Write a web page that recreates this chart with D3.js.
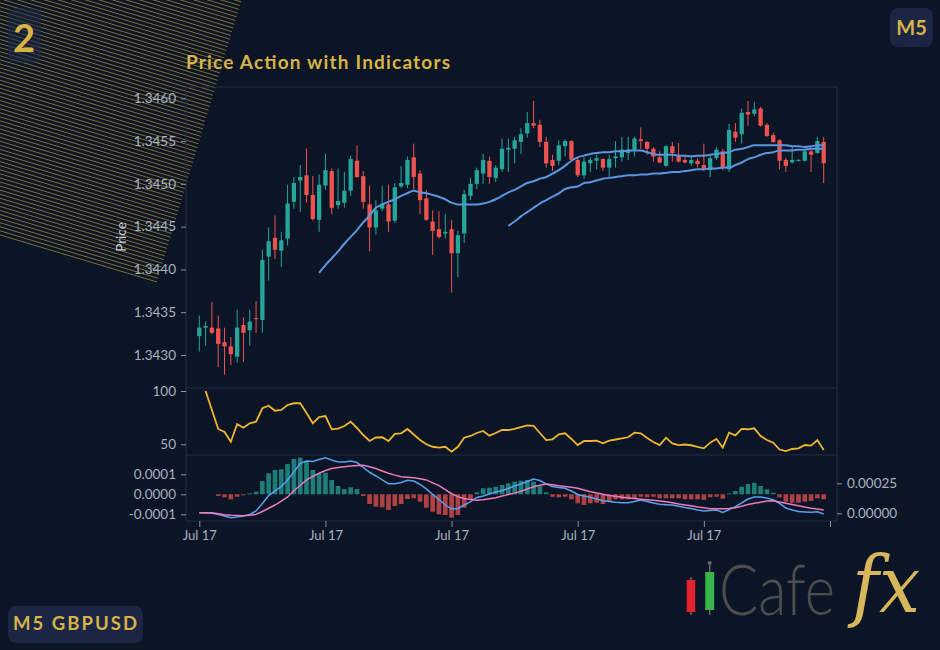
<!DOCTYPE html>
<html>
<head>
<meta charset="utf-8">
<script src="https://cdn.jsdelivr.net/npm/d3@7"></script>
<style>
  body { margin: 0; background: #0b1526; }
  svg { display: block; font-family: Lato, "Open Sans", sans-serif; }
</style>
</head>
<body>
<div id="chart"></div>
<script>
// ---- data (M5 GBPUSD, 100 bars) ----
const open = [1.34322,1.34332,1.34332,1.34331,1.34315,1.34310,1.34298,1.34335,1.34329,1.34343,
  1.34341,1.34415,1.34437,1.34422,1.34436,1.34479,1.34504,1.34510,1.34487,1.34458,
  1.34498,1.34515,1.34475,1.34478,1.34492,1.34527,1.34509,1.34476,1.34449,1.34471,
  1.34476,1.34457,1.34497,1.34499,1.34531,1.34512,1.34483,1.34456,1.34447,1.34442,
  1.34447,1.34419,1.34442,1.34486,1.34500,1.34512,1.34527,1.34507,1.34517,1.34540,
  1.34541,1.34549,1.34559,1.34571,1.34569,1.34549,1.34528,1.34527,1.34544,1.34550,
  1.34528,1.34510,1.34524,1.34527,1.34529,1.34519,1.34530,1.34531,1.34536,1.34540,
  1.34552,1.34549,1.34541,1.34531,1.34521,1.34544,1.34532,1.34528,1.34524,1.34527,
  1.34522,1.34516,1.34530,1.34538,1.34517,1.34561,1.34558,1.34584,1.34582,1.34588,
  1.34569,1.34557,1.34551,1.34528,1.34525,1.34527,1.34527,1.34538,1.34536,1.34549];
const high = [1.34346,1.34339,1.34362,1.34346,1.34332,1.34321,1.34353,1.34344,1.34353,1.34363,
  1.34423,1.34449,1.34463,1.34444,1.34499,1.34508,1.34522,1.34541,1.34509,1.34511,
  1.34535,1.34518,1.34518,1.34514,1.34533,1.34545,1.34515,1.34498,1.34481,1.34498,
  1.34499,1.34501,1.34521,1.34532,1.34547,1.34516,1.34493,1.34469,1.34468,1.34465,
  1.34458,1.34445,1.34493,1.34507,1.34519,1.34535,1.34532,1.34522,1.34553,1.34553,
  1.34555,1.34565,1.34584,1.34597,1.34575,1.34555,1.34534,1.34551,1.34552,1.34551,
  1.34531,1.34531,1.34531,1.34534,1.34530,1.34534,1.34550,1.34555,1.34555,1.34555,
  1.34566,1.34550,1.34543,1.34538,1.34545,1.34549,1.34548,1.34534,1.34532,1.34530,
  1.34547,1.34534,1.34543,1.34541,1.34570,1.34571,1.34588,1.34597,1.34596,1.34590,
  1.34571,1.34560,1.34552,1.34530,1.34544,1.34529,1.34540,1.34540,1.34555,1.34555];
const low = [1.34304,1.34311,1.34324,1.34286,1.34277,1.34288,1.34291,1.34292,1.34311,1.34326,
  1.34326,1.34387,1.34412,1.34403,1.34428,1.34471,1.34467,1.34478,1.34457,1.34444,
  1.34493,1.34465,1.34471,1.34472,1.34486,1.34507,1.34471,1.34421,1.34441,1.34468,
  1.34444,1.34454,1.34495,1.34495,1.34493,1.34465,1.34457,1.34417,1.34436,1.34436,
  1.34373,1.34391,1.34431,1.34481,1.34494,1.34500,1.34500,1.34502,1.34514,1.34514,
  1.34524,1.34535,1.34554,1.34565,1.34543,1.34519,1.34515,1.34522,1.34532,1.34527,
  1.34508,1.34506,1.34514,1.34517,1.34515,1.34508,1.34519,1.34526,1.34528,1.34532,
  1.34541,1.34534,1.34526,1.34524,1.34520,1.34526,1.34525,1.34524,1.34521,1.34519,
  1.34515,1.34508,1.34528,1.34516,1.34514,1.34549,1.34547,1.34568,1.34579,1.34567,
  1.34555,1.34548,1.34517,1.34514,1.34524,1.34526,1.34526,1.34514,1.34535,1.34501];
const close = [1.34332,1.34334,1.34326,1.34313,1.34310,1.34301,1.34332,1.34326,1.34339,1.34342,
  1.34411,1.34433,1.34423,1.34434,1.34477,1.34501,1.34508,1.34487,1.34459,1.34499,
  1.34516,1.34472,1.34480,1.34492,1.34529,1.34508,1.34479,1.34449,1.34469,1.34477,
  1.34456,1.34496,1.34501,1.34528,1.34508,1.34481,1.34458,1.34445,1.34438,1.34444,
  1.34419,1.34440,1.34488,1.34500,1.34516,1.34528,1.34508,1.34519,1.34541,1.34542,
  1.34551,1.34558,1.34571,1.34568,1.34549,1.34524,1.34521,1.34545,1.34550,1.34528,
  1.34510,1.34526,1.34528,1.34530,1.34519,1.34529,1.34532,1.34540,1.34540,1.34553,
  1.34550,1.34541,1.34532,1.34525,1.34544,1.34536,1.34526,1.34525,1.34528,1.34523,
  1.34518,1.34530,1.34540,1.34518,1.34563,1.34554,1.34583,1.34581,1.34587,1.34568,
  1.34556,1.34549,1.34527,1.34521,1.34528,1.34528,1.34538,1.34534,1.34550,1.34524];

// moving averages, first value sits on bar sma20Start / sma50Start
const sma20Start = 19;
const sma20 = [1.34396,1.34405,1.34413,1.34421,1.34430,1.34438,1.34446,1.34455,1.34463,1.34472,
  1.34476,1.34479,1.34482,1.34486,1.34489,1.34492,1.34490,1.34489,1.34487,1.34485,
  1.34482,1.34478,1.34476,1.34476,1.34476,1.34476,1.34477,1.34479,1.34482,1.34486,
  1.34490,1.34493,1.34497,1.34501,1.34503,1.34506,1.34508,1.34512,1.34516,1.34521,
  1.34527,1.34531,1.34533,1.34535,1.34536,1.34537,1.34537,1.34538,1.34538,1.34539,
  1.34539,1.34539,1.34537,1.34535,1.34534,1.34534,1.34534,1.34533,1.34533,1.34532,
  1.34533,1.34533,1.34534,1.34535,1.34536,1.34537,1.34540,1.34541,1.34543,1.34545,
  1.34545,1.34545,1.34545,1.34545,1.34545,1.34544,1.34544,1.34543,1.34544,1.34545,1.34545];
const sma50Start = 49;
const sma50 = [1.34451,1.34456,1.34462,1.34467,1.34472,1.34477,1.34481,1.34485,1.34489,1.34494,
  1.34496,1.34497,1.34501,1.34502,1.34504,1.34506,1.34507,1.34508,1.34509,1.34510,
  1.34510,1.34511,1.34511,1.34512,1.34512,1.34513,1.34514,1.34514,1.34515,1.34516,
  1.34517,1.34517,1.34518,1.34518,1.34519,1.34519,1.34522,1.34525,1.34529,1.34531,
  1.34534,1.34536,1.34537,1.34539,1.34539,1.34539,1.34540,1.34540,1.34541,1.34541,1.34541];

// RSI starts on bar 1
const rsiStart = 1;
const rsi = [100,82.2,64.4,61.5,52.4,69.0,65.6,69.7,71.2,83.8,
  86.2,81.5,82.2,86.9,88.5,88.5,79.4,69.7,75.6,76.5,
  64.1,64.8,67.2,71.2,65.3,58.7,53.1,56.4,56.6,53.1,
  59.7,60.3,64.4,59.2,54.0,50.0,47.7,46.8,47.7,43.1,
  47.7,56.2,57.8,60.6,62.5,58.1,60.6,63.4,63.4,64.4,
  66.2,67.8,67.4,60.6,54.0,54.7,59.4,60.3,55.0,49.3,
  53.1,53.1,53.4,50.9,53.4,54.5,55.6,56.6,60.9,60.3,
  55.9,52.2,49.3,56.2,50.9,49.3,49.8,49.1,47.5,46.2,
  51.5,55.0,46.8,60.9,58.4,64.4,64.1,65.0,57.8,54.0,
  51.5,45.1,43.7,45.6,46.2,49.3,48.7,54.0,44.7];

const macd = [0.000005,0.000003,0,-0.00001,-0.000023,-0.000037,-0.000031,-0.000023,-0.00001,0.000019,
  0.000082,0.000148,0.000186,0.000223,0.000278,0.000344,0.000417,0.000436,0.000432,0.000448,
  0.000463,0.000444,0.000428,0.000428,0.000436,0.000423,0.000382,0.000342,0.000311,0.000278,
  0.000247,0.000247,0.000257,0.000275,0.000269,0.00024,0.000203,0.000157,0.000115,0.000069,
  0.000036,0.00004,0.000069,0.000098,0.000132,0.000144,0.000161,0.000178,0.00019,0.000207,
  0.000228,0.000244,0.000265,0.000286,0.000273,0.000244,0.000223,0.000215,0.000208,0.000186,
  0.000157,0.000144,0.000133,0.000119,0.000105,0.000098,0.000092,0.000088,0.000088,0.000098,
  0.000111,0.000098,0.000086,0.000075,0.000072,0.000069,0.000058,0.000048,0.00004,0.000028,
  0.000019,0.000023,0.000028,0.000008,0.000032,0.000055,0.000086,0.000119,0.000136,0.000136,
  0.000128,0.000113,0.000082,0.000044,0.000028,0.000015,0.000011,0.000008,0.000013,-0.000006];
const signal = [0.000005,0.000005,0.000005,-0.000004,-0.000012,-0.000016,-0.000018,-0.00002,-0.000016,-0.000009,
  0.000015,0.000042,0.000069,0.000101,0.000136,0.000188,0.000234,0.000278,0.000307,0.000334,
  0.000357,0.000373,0.000381,0.000388,0.000394,0.000398,0.0004,0.000388,0.000373,0.000353,
  0.000334,0.000318,0.000304,0.0003,0.000296,0.000288,0.000278,0.000254,0.000231,0.000198,
  0.000163,0.000139,0.000123,0.000114,0.000109,0.000113,0.000121,0.00013,0.000144,0.000157,
  0.000168,0.000183,0.000203,0.000222,0.000233,0.000244,0.000238,0.000229,0.000224,0.000218,
  0.000208,0.000194,0.00018,0.000169,0.000158,0.000149,0.000142,0.000134,0.000128,0.000123,
  0.000118,0.000113,0.000108,0.000103,0.000096,0.000088,0.000078,0.00007,0.000063,0.000053,
  0.000046,0.000038,0.000037,0.000038,0.00004,0.000046,0.000058,0.000073,0.000083,0.000093,
  0.000102,0.000105,0.000095,0.000084,0.000074,0.000063,0.000052,0.000043,0.000036,0.000028];
const hist = [0,0,0,-0.0000085,-0.000015,-0.000025,-0.000012,-0.000005,0.000005,0.000013,
  0.0000665,0.000105,0.0001215,0.000125,0.0001515,0.0001765,0.000183,0.000163,0.0001215,0.000105,
  0.000108,0.0000715,0.0000415,0.0000265,0.000035,0.0000265,-0.0000085,-0.0000485,-0.000062,-0.000065,
  -0.0000785,-0.0000585,-0.0000485,-0.0000235,-0.00002,-0.000037,-0.000067,-0.000087,-0.0001,-0.0001035,
  -0.000117,-0.0001035,-0.000067,-0.000025,0.00001,0.00003,0.000033,0.000038,0.0000465,0.000055,
  0.000063,0.000068,0.0000715,0.000063,0.00004,0.00001,-0.000012,-0.000015,-0.000012,-0.000025,
  -0.000045,-0.0000535,-0.000045,-0.000042,-0.0000485,-0.000037,-0.000025,-0.000025,-0.000025,-0.00002,
  -0.000012,-0.000015,-0.000012,-0.00002,-0.00002,-0.00002,-0.00002,-0.000025,-0.000025,-0.000025,
  -0.000028,-0.000015,-0.000012,-0.000022,0.000005,0.0000165,0.000038,0.0000515,0.000058,0.0000415,
  0.000025,0.000008,-0.000015,-0.000037,-0.000042,-0.000042,-0.000037,-0.000033,-0.00002,-0.000025];

const xTicks = [0, 20, 40, 60, 80, 100];
const xTickLabels = ["Jul 17", "Jul 17", "Jul 17", "Jul 17", "Jul 17", ""];
const priceTicks = [1.3430, 1.3435, 1.3440, 1.3445, 1.3450, 1.3455, 1.3460];
const rsiTicks = [50, 100];
const histTicks = [-0.0001, 0, 0.0001];
const macdTicks = [0, 0.00025];

// ---- layout ----
const width = 940, height = 650;
const plotL = 186, plotR = 837, plotT = 87;
const priceBottom = 388, rsiBottom = 455, macdBottom = 521;
const gold = "#d8b345", up = "#26a69a", down = "#ef5350";
const axisText = "#a9b2c0", border = "#252f44";

const svg = d3.select("#chart").append("svg")
  .attr("width", width)
  .attr("height", height);

svg.append("rect").attr("width", width).attr("height", height).attr("fill", "#0b1526");

// diagonal gold hatching, top-left corner
const hatch = svg.append("g").attr("transform", "translate(157,282) rotate(16.7)");
hatch.selectAll("line").data(d3.range(0, 100)).join("line")
  .attr("x1", -700).attr("x2", 0)
  .attr("y1", k => -k * 3.9).attr("y2", k => -k * 3.9)
  .attr("stroke", "#c9a43c")
  .attr("stroke-width", 0.75)
  .attr("opacity", 0.75);

// scales
const x = d3.scaleLinear().domain([0, 100]).range([199.3, 830]);
const step = x(1) - x(0);
const yP = d3.scaleLinear().domain([1.3430, 1.3460]).range([355, 98.3]);
const yR = d3.scaleLinear().domain([50, 100]).range([444.3, 391]);
const yH = d3.scaleLinear().domain([-0.0001, 0.0001]).range([514.3, 474.3]);
const yM = d3.scaleLinear().domain([0, 0.00025]).range([513.3, 483.3]);

// clip paths for panels
const defs = svg.append("defs");
[["clipP", plotT, priceBottom], ["clipR", priceBottom, rsiBottom], ["clipM", rsiBottom, macdBottom]]
  .forEach(([id, y0, y1]) => {
    defs.append("clipPath").attr("id", id).append("rect")
      .attr("x", plotL).attr("y", y0).attr("width", plotR - plotL).attr("height", y1 - y0);
  });

// panel frames
const frame = svg.append("g").attr("stroke", border).attr("fill", "none");
frame.append("rect").attr("x", plotL).attr("y", plotT)
  .attr("width", plotR - plotL).attr("height", macdBottom - plotT);
[priceBottom, rsiBottom].forEach(yy => {
  frame.append("line").attr("x1", plotL).attr("x2", plotR).attr("y1", yy).attr("y2", yy);
});

// title
svg.append("text")
  .attr("x", plotL).attr("y", 69)
  .attr("fill", gold)
  .attr("font-size", 19)
  .attr("font-weight", 700)
  .attr("textLength", 264)
  .text("Price Action with Indicators");

// candles
const bars = d3.range(open.length).map(i => ({i, o: open[i], h: high[i], l: low[i], c: close[i]}));
const candles = svg.append("g").attr("clip-path", "url(#clipP)");
const bodyW = step * 0.68;
candles.selectAll("line").data(bars).join("line")
  .attr("x1", d => x(d.i)).attr("x2", d => x(d.i))
  .attr("y1", d => yP(d.h)).attr("y2", d => yP(d.l))
  .attr("stroke", d => d.c >= d.o ? up : down)
  .attr("stroke-width", 1);
candles.selectAll("rect").data(bars).join("rect")
  .attr("x", d => x(d.i) - bodyW / 2)
  .attr("width", bodyW)
  .attr("y", d => yP(Math.max(d.o, d.c)))
  .attr("height", d => Math.max(1, Math.abs(yP(d.o) - yP(d.c))))
  .attr("fill", d => d.c >= d.o ? up : down);

// moving averages
const maLine = d3.line().x(d => x(d[0])).y(d => yP(d[1])).curve(d3.curveMonotoneX);
[[sma20, sma20Start], [sma50, sma50Start]].forEach(([vals, start]) => {
  candles.append("path")
    .datum(vals.map((v, k) => [start + k, v]))
    .attr("d", maLine)
    .attr("fill", "none")
    .attr("stroke", "#5b97e0")
    .attr("stroke-width", 2);
});

// RSI
svg.append("g").attr("clip-path", "url(#clipR)").append("path")
  .datum(rsi.map((v, k) => [rsiStart + k, v]))
  .attr("d", d3.line().x(d => x(d[0])).y(d => yR(d[1])))
  .attr("fill", "none")
  .attr("stroke", "#f0b62f")
  .attr("stroke-width", 1.8);

// MACD histogram + lines
const macdG = svg.append("g").attr("clip-path", "url(#clipM)");
const histW = step * 0.74;
macdG.selectAll("rect").data(hist.map((v, i) => ({i, v}))).join("rect")
  .attr("x", d => x(d.i) - histW / 2)
  .attr("width", histW)
  .attr("y", d => yH(Math.max(0, d.v)))
  .attr("height", d => Math.abs(yH(d.v) - yH(0)))
  .attr("fill", d => d.v >= 0 ? up : down)
  .attr("opacity", 0.72);
const mLine = d3.line().x((d, i) => x(i)).y(d => yM(d));
macdG.append("path").datum(macd).attr("d", mLine)
  .attr("fill", "none").attr("stroke", "#5aa0ee").attr("stroke-width", 1.5);
macdG.append("path").datum(signal).attr("d", mLine)
  .attr("fill", "none").attr("stroke", "#ec7bbd").attr("stroke-width", 1.5);

// axes
function styleAxis(g, size) {
  g.select(".domain").remove();
  g.selectAll(".tick line").attr("stroke", "#8993a5");
  g.selectAll(".tick text").attr("fill", axisText).attr("font-size", size)
    .attr("font-family", "Lato, 'Open Sans', sans-serif");
}
svg.append("g").attr("transform", `translate(${plotL},0)`)
  .call(d3.axisLeft(yP).tickValues(priceTicks).tickFormat(d => d.toFixed(4)).tickSize(5).tickPadding(5))
  .call(g => styleAxis(g, 13.5));
svg.append("g").attr("transform", `translate(${plotL},0)`)
  .call(d3.axisLeft(yR).tickValues(rsiTicks).tickFormat(d3.format("d")).tickSize(5).tickPadding(5))
  .call(g => styleAxis(g, 13.5));
svg.append("g").attr("transform", `translate(${plotL},0)`)
  .call(d3.axisLeft(yH).tickValues(histTicks).tickFormat(d => d.toFixed(4)).tickSize(5).tickPadding(5))
  .call(g => styleAxis(g, 13.5));
svg.append("g").attr("transform", `translate(${plotR},0)`)
  .call(d3.axisRight(yM).tickValues(macdTicks).tickFormat(d => d.toFixed(5)).tickSize(5).tickPadding(5))
  .call(g => styleAxis(g, 13.5));
svg.append("g").attr("transform", `translate(0,${macdBottom})`)
  .call(d3.axisBottom(x).tickValues(xTicks).tickFormat((d, i) => xTickLabels[i]).tickSize(6).tickPadding(4))
  .call(g => styleAxis(g, 13));

svg.append("text")
  .attr("transform", "translate(126,237) rotate(-90)")
  .attr("text-anchor", "middle")
  .attr("fill", "#c9cfd9")
  .attr("font-size", 13.5)
  .text("Price");

// badges
svg.append("rect").attr("x", 8).attr("y", 8).attr("width", 33).attr("height", 55)
  .attr("rx", 6).attr("fill", "#1b2645").attr("opacity", 0.55);
svg.append("text").attr("x", 24).attr("y", 52).attr("text-anchor", "middle")
  .attr("fill", gold).attr("font-size", 38).attr("font-weight", 700).text("2");

svg.append("rect").attr("x", 890).attr("y", 8).attr("width", 43).attr("height", 39)
  .attr("rx", 8).attr("fill", "#1b2645");
svg.append("text").attr("x", 911.5).attr("y", 34.5).attr("text-anchor", "middle")
  .attr("fill", gold).attr("font-size", 20).attr("font-weight", 700).text("M5");

svg.append("rect").attr("x", 8).attr("y", 606).attr("width", 135).attr("height", 37)
  .attr("rx", 8).attr("fill", "#1b2645");
svg.append("text").attr("x", 13).attr("y", 630)
  .attr("fill", gold).attr("font-size", 18.5).attr("font-weight", 700)
  .attr("textLength", 124).text("M5 GBPUSD");

// CafeFX logo
const logo = svg.append("g");
logo.append("line").attr("x1", 691).attr("x2", 691).attr("y1", 577).attr("y2", 615)
  .attr("stroke", "#666").attr("stroke-width", 1.5);
logo.append("rect").attr("x", 686.7).attr("y", 580).attr("width", 8.5).attr("height", 32)
  .attr("fill", "#e3222b");
logo.append("line").attr("x1", 709.7).attr("x2", 709.7).attr("y1", 563).attr("y2", 615)
  .attr("stroke", "#666").attr("stroke-width", 1.5);
logo.append("circle").attr("cx", 709.7).attr("cy", 563).attr("r", 2).attr("fill", "#666");
logo.append("rect").attr("x", 705.2).attr("y", 572).attr("width", 9).attr("height", 38)
  .attr("fill", "#39b54a");
logo.append("text").attr("x", 719).attr("y", 615)
  .attr("fill", "#4d4d4d").attr("font-size", 70).attr("font-weight", 300)
  .attr("textLength", 116).attr("lengthAdjust", "spacingAndGlyphs")
  .text("Cafe");
logo.append("text").attr("x", 852).attr("y", 612)
  .attr("fill", "#d7b65c").attr("font-size", 78).attr("font-style", "italic")
  .attr("font-family", "'DejaVu Serif', serif")
  .attr("textLength", 68).attr("lengthAdjust", "spacingAndGlyphs")
  .text("fx");
</script>
</body>
</html>
